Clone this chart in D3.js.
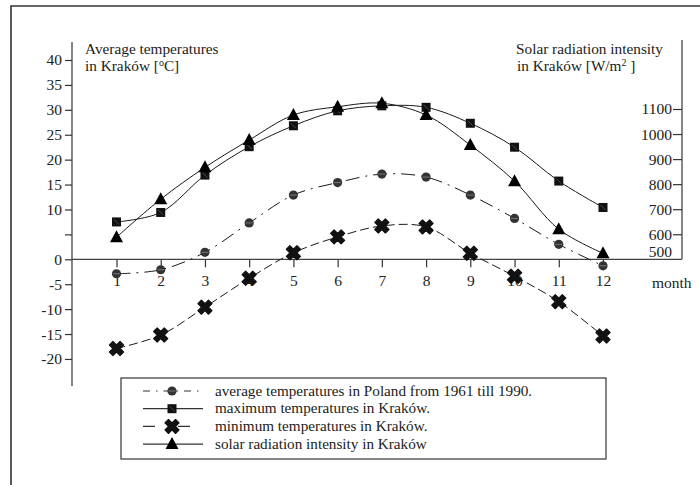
<!DOCTYPE html>
<html>
<head>
<meta charset="utf-8">
<script src="https://cdn.jsdelivr.net/npm/d3@7"></script>
<style>
  body { margin: 0; background: #fff; }
  svg text { font-family: "Liberation Serif", "Times New Roman", serif; fill: #222; }
</style>
</head>
<body>
<div id="chart"></div>
<script>
const width = 700;
const height = 485;

// months on the x axis
const months = [1, 2, 3, 4, 5, 6, 7, 8, 9, 10, 11, 12];

// series values
const avgPoland = [-2.9, -2.1, 1.4, 7.3, 12.9, 15.4, 17.1, 16.5, 12.9, 8.2, 3.0, -1.3];
const maxKrakow = [7.5, 9.4, 16.9, 22.6, 26.8, 29.8, 30.8, 30.5, 27.3, 22.5, 15.7, 10.4];
const minKrakow = [-17.9, -15.2, -9.6, -3.8, 1.3, 4.5, 6.7, 6.5, 1.2, -3.4, -8.5, -15.4];
const solar = [588, 740, 867, 976, 1076, 1109, 1123, 1076, 956, 812, 620, 524];

// tick labels
const tempTicks = [40, 35, 30, 25, 20, 15, 10, 5, 0, -5, -10, -15, -20];
const tempLabels = ["40", "35", "30", "25", "20", "15", "10", "", "0", "-5", "-10", "-15", "-20"];
const solarTicks = [500, 600, 700, 800, 900, 1000, 1100];

const legendLabels = [
  "average temperatures in Poland from 1961 till 1990.",
  "maximum temperatures in Kraków.",
  "minimum temperatures in Kraków.",
  "solar radiation intensity in Kraków"
];

const ink = "#1a1a1a";

const svg = d3.select("#chart").append("svg")
  .attr("width", width)
  .attr("height", height);

// outer frame (cropped: only top and left edges show)
svg.append("path")
  .attr("d", "M11,485 V6 H700")
  .attr("fill", "none")
  .attr("stroke", "#333")
  .attr("stroke-width", 1.6);

// scales
const x = d3.scaleLinear().domain([1, 12]).range([116.5, 603]);
const y = d3.scaleLinear().domain([0, 40]).range([259.3, 60]);
const y2 = d3.scaleLinear().domain([500, 1100]).range([259.3, 109]);

// left axis
const leftAxis = svg.append("g")
  .attr("transform", "translate(72,0)")
  .call(d3.axisLeft(y).tickValues(tempTicks).tickSize(7).tickPadding(3)
    .tickFormat((d, i) => tempLabels[i]));
leftAxis.select(".domain").attr("d", "M0,42 V386");

// right axis
const rightAxis = svg.append("g")
  .attr("transform", "translate(682,0)")
  .call(d3.axisLeft(y2).tickValues(solarTicks).tickSize(9).tickPadding(1).tickFormat(d3.format("d")));
rightAxis.select(".domain").attr("d", "M0,40 V259.3");
rightAxis.selectAll(".tick").filter(d => d === 500).select("line").remove();
rightAxis.selectAll(".tick").filter(d => d === 500).select("text").attr("dy", "-0.15em");

// x axis
const xAxis = svg.append("g")
  .attr("transform", `translate(0,${y(0)})`)
  .call(d3.axisBottom(x).tickValues(months).tickSize(8).tickPadding(8).tickFormat(d3.format("d")));
xAxis.select(".domain").attr("d", "M72,0 H682");

[leftAxis, rightAxis, xAxis].forEach(g => {
  g.selectAll(".domain").attr("stroke", "#444").attr("stroke-width", 1.3);
  g.selectAll(".tick line").attr("stroke", "#333").attr("stroke-width", 1.2);
  g.selectAll("text").attr("font-size", 15.5).attr("fill", "#222")
    .attr("font-family", "Liberation Serif, serif");
});

svg.append("text")
  .attr("x", 652).attr("y", 288)
  .attr("font-size", 15.5)
  .text("month");

// axis titles
const titleL = svg.append("text").attr("x", 85).attr("y", 54).attr("font-size", 15.3);
titleL.append("tspan").text("Average temperatures");
const l2 = titleL.append("tspan").attr("x", 85).attr("dy", 17).text("in Kraków [");
l2.append("tspan").attr("dy", -5).attr("font-size", 10).text("o");
l2.append("tspan").attr("dy", 5).text("C]");

const titleR = svg.append("text").attr("x", 516).attr("y", 54).attr("font-size", 15.3);
titleR.append("tspan").text("Solar radiation intensity");
const r2 = titleR.append("tspan").attr("x", 517).attr("dy", 17).text("in Kraków [W/m");
r2.append("tspan").attr("dy", -5).attr("font-size", 10).text("2");
r2.append("tspan").attr("dy", 5).text(" ]");

// series
const series = [
  { key: "avg", values: avgPoland, scale: y, dash: "14,6,2,6", marker: "circle" },
  { key: "max", values: maxKrakow, scale: y, dash: null, marker: "square" },
  { key: "min", values: minKrakow, scale: y, dash: "9,4", marker: "cross" },
  { key: "solar", values: solar, scale: y2, dash: null, marker: "triangle" }
];

const lineGen = (scale) => d3.line()
  .x((d, i) => x(months[i]))
  .y(d => scale(d))
  .curve(d3.curveCatmullRom.alpha(0.5));

series.forEach(s => {
  svg.append("path")
    .datum(s.values)
    .attr("fill", "none")
    .attr("stroke", ink)
    .attr("stroke-width", 1)
    .attr("stroke-dasharray", s.dash)
    .attr("d", lineGen(s.scale));
});

// marker drawing
function drawMarker(g, type, cx, cy) {
  if (type === "circle") {
    g.append("circle").attr("cx", cx).attr("cy", cy).attr("r", 4.6).attr("fill", "#333");
    g.append("line").attr("x1", cx - 3.5).attr("x2", cx + 3.5).attr("y1", cy).attr("y2", cy)
      .attr("stroke", "#888").attr("stroke-width", 0.8);
  } else if (type === "square") {
    g.append("rect").attr("x", cx - 4.5).attr("y", cy - 4.5).attr("width", 9).attr("height", 9)
      .attr("fill", "#111");
    g.append("line").attr("x1", cx - 2.5).attr("y1", cy - 2.5).attr("x2", cx + 2.5).attr("y2", cy + 2.5)
      .attr("stroke", "#777").attr("stroke-width", 0.6);
  } else if (type === "cross") {
    g.append("path").attr("transform", `translate(${cx},${cy}) rotate(45)`)
      .attr("d", d3.symbol(d3.symbolCross, 125)())
      .attr("fill", "#111").attr("stroke", "#111").attr("stroke-width", 1.2)
      .attr("stroke-linejoin", "round");
  } else if (type === "triangle") {
    g.append("path").attr("d", `M${cx},${cy - 7} L${cx + 6.5},${cy + 5} L${cx - 6.5},${cy + 5}Z`)
      .attr("fill", "#000");
  }
}

series.forEach(s => {
  const g = svg.append("g");
  s.values.forEach((v, i) => drawMarker(g, s.marker, x(months[i]), s.scale(v)));
});

// legend
const legend = svg.append("g");
legend.append("rect")
  .attr("x", 121).attr("y", 378).attr("width", 485).attr("height", 81)
  .attr("fill", "#fff").attr("stroke", "#444").attr("stroke-width", 1.3);

const legendDash = ["7,6,1.5,6", null, "12,23", null];
series.forEach((s, i) => {
  const cy = 391 + i * 17.7;
  const row = legend.append("g");
  row.append("line")
    .attr("x1", 143).attr("x2", 203).attr("y1", cy).attr("y2", cy)
    .attr("stroke", "#333").attr("stroke-width", 1.2)
    .attr("stroke-dasharray", legendDash[i]);
  drawMarker(row, s.marker, 172, cy);
  row.append("text")
    .attr("x", 215).attr("y", cy + 4.5)
    .attr("font-size", 15.2)
    .text(legendLabels[i]);
});
</script>
</body>
</html>
